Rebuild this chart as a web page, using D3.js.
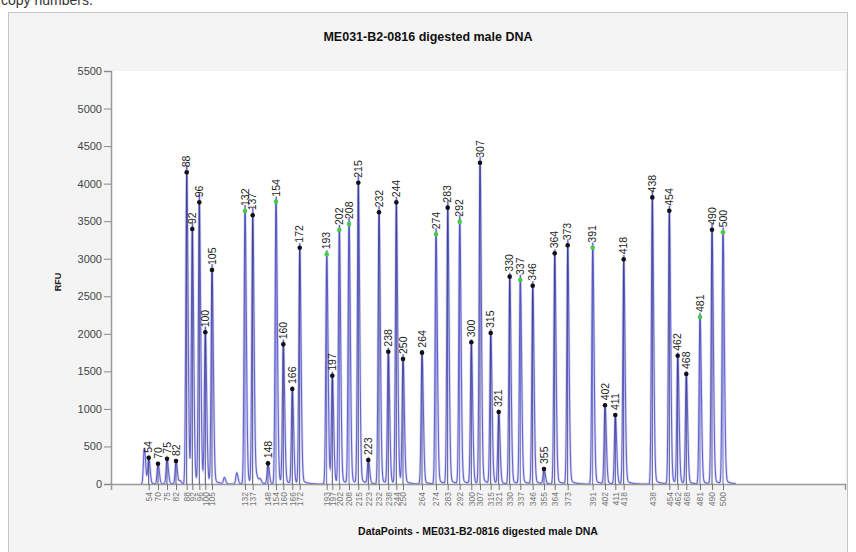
<!DOCTYPE html>
<html>
<head>
<meta charset="utf-8">
<script src="https://cdn.jsdelivr.net/npm/d3@7"></script>
<style>
  body { margin: 0; background: #ffffff; font-family: "Liberation Sans", Arial, sans-serif; }
  svg { display: block; }
</style>
</head>
<body>
<svg id="chart" width="856" height="552"></svg>
<script>
// Called peaks: fragment size label, scan position (data points) and height (RFU)
const peakSizes = ["54","70","75","82","88","92","96","100","105","132","137","148","154","160","166","172",
  "193","197","202","208","215","223","232","238","244","250","264","274","283","292","300","307","315",
  "321","330","337","346","355","364","373","391","402","411","418","438","454","462","468","481","490","500"];
const peakDataPoints = [377,470,560,650,757,813,883,943,1010,1340,1417,1570,1650,1723,1813,1887,
  2157,2213,2283,2380,2473,2573,2680,2773,2853,2920,3110,3250,3367,3487,3603,3690,3797,
  3877,3987,4093,4217,4330,4437,4567,4817,4940,5043,5127,5413,5583,5667,5753,5890,6010,6120];
const peakRFU = [350,270,337,306,4150,3395,3751,2020,2850,3635,3578,275,3760,1860,1265,3147,
  3058,1442,3382,3462,4012,320,3618,1762,3751,1664,1749,3325,3680,3493,1887,4278,2011,
  959,2761,2716,2641,200,3072,3178,3147,1048,919,2992,3817,3639,1708,1465,2224,3386,3351];
// Size-standard peaks are marked in green
const standardSizes = ["132","154","193","202","208","274","292","337","391","481","500"];

// Uncalled minor peaks in the trace
const minorDataPoints = [333,690,1133,1257,1457,1490];
const minorRFU = [470,40,80,145,70,50];

const yTicks = [0,500,1000,1500,2000,2500,3000,3500,4000,4500,5000,5500];
const xDomain = [0, 7340];

const chartTitle = "ME031-B2-0816 digested male DNA";
const xTitle = "DataPoints - ME031-B2-0816 digested male DNA";
const yTitle = "RFU";

const svg = d3.select("#chart");
const W = 856, H = 552;
const plot = { left: 111, right: 845, top: 71, bottom: 484 };

// Text cut off at the top edge of the page
svg.append("text").attr("x", 1).attr("y", 5)
  .attr("font-size", 14).attr("fill", "#333").text("copy numbers.");

// Chart frame
svg.append("rect").attr("x", 8.5).attr("y", 12.5).attr("width", 839).attr("height", 560)
  .attr("fill", "#f4f4f4").attr("stroke", "#c4c4c4");
svg.append("rect").attr("x", plot.left).attr("y", plot.top)
  .attr("width", plot.right - plot.left).attr("height", plot.bottom - plot.top)
  .attr("fill", "#ffffff");

const x = d3.scaleLinear().domain(xDomain).range([plot.left, plot.right]);
const y = d3.scaleLinear().domain([0, 5500]).range([plot.bottom, plot.top]);

// Title
svg.append("text").attr("x", 428).attr("y", 41).attr("text-anchor", "middle")
  .attr("font-size", 12.5).attr("font-weight", "bold").attr("fill", "#111").text(chartTitle);

// Y axis
const yAxis = svg.append("g").attr("transform", `translate(${plot.left},0)`)
  .call(d3.axisLeft(y).tickValues(yTicks).tickSize(7).tickPadding(2).tickFormat(d3.format("d")));
yAxis.select(".domain").attr("stroke", "#999").attr("stroke-width", 1.5);
yAxis.selectAll(".tick line").attr("stroke", "#888");
yAxis.selectAll(".tick text").attr("font-size", 11).attr("fill", "#444")
  .attr("font-family", "'Liberation Sans', Arial, sans-serif");

svg.append("text").attr("transform", "translate(61,282) rotate(-90)")
  .attr("text-anchor", "middle").attr("font-size", 9).attr("font-weight", "bold")
  .attr("fill", "#222").text(yTitle);

// Trace: each peak drawn with an electropherogram shape (sharper rise, slower tail)
const allPos = peakDataPoints.concat(minorDataPoints);
const allH = peakRFU.concat(minorRFU);
function signal(dp) {
  let s = 0;
  for (let i = 0; i < allPos.length; i++) {
    const d = dp - allPos[i];
    if (d < -80 || d > 160) continue;
    const sig = d < 0 ? 9 : 13;
    s += allH[i] * (Math.exp(-d * d / (2 * sig * sig)) + (d > 0 ? 0.025 * Math.exp(-d / 45) : 0));
  }
  return s;
}
const samples = d3.range(300, 6250, 1.5);
const line = d3.line().x(d => x(d)).y(d => y(Math.min(signal(d), 5500)));
svg.append("path").attr("d", line(samples)).attr("fill", "none")
  .attr("stroke", "#b9b9ee").attr("stroke-width", 2.6).attr("stroke-opacity", 0.55);
svg.append("path").attr("d", line(samples)).attr("fill", "none")
  .attr("stroke", "#6464cf").attr("stroke-width", 1.1);

// X axis with a tick per called peak
const xAxis = svg.append("g").attr("transform", `translate(0,${plot.bottom})`)
  .call(d3.axisBottom(x).tickValues(peakDataPoints).tickSize(6).tickPadding(2)
    .tickFormat((d, i) => peakSizes[i]));
xAxis.select(".domain").attr("stroke", "#999").attr("stroke-width", 1.5);
xAxis.selectAll(".tick line").attr("stroke", "#777");
xAxis.selectAll(".tick text")
  .attr("font-size", 8.5).attr("fill", "#777")
  .attr("font-family", "'Liberation Sans', Arial, sans-serif")
  .attr("text-anchor", "end").attr("transform", "rotate(-90)")
  .attr("x", -8).attr("y", 0).attr("dy", "0.35em");

svg.append("text").attr("x", (plot.left + plot.right) / 2).attr("y", 535)
  .attr("text-anchor", "middle").attr("font-size", 10.5).attr("font-weight", "bold")
  .attr("fill", "#111").text(xTitle);

// Peak stems, markers and size labels
const peaks = peakSizes.map((s, i) => ({ size: s, dp: peakDataPoints[i], rfu: peakRFU[i],
  std: standardSizes.includes(s) }));
const pg = svg.append("g");
pg.selectAll("line.stem").data(peaks).join("line")
  .attr("x1", d => x(d.dp)).attr("x2", d => x(d.dp))
  .attr("y1", d => y(d.rfu)).attr("y2", y(0))
  .attr("stroke", d => d.std ? "#4c4cb8" : "#2e2e78").attr("stroke-width", 1)
  .attr("stroke-opacity", 0.85);
pg.selectAll("circle").data(peaks).join("circle")
  .attr("cx", d => x(d.dp)).attr("cy", d => y(d.rfu)).attr("r", 2.3)
  .attr("fill", d => d.std ? "#44cc44" : "#111");
pg.selectAll("text").data(peaks).join("text")
  .attr("transform", d => `translate(${x(d.dp)},${y(d.rfu) - 5}) rotate(-90)`)
  .attr("dy", "0.35em").attr("font-size", 10.5).attr("fill", "#222")
  .text(d => d.size);
</script>
</body>
</html>
